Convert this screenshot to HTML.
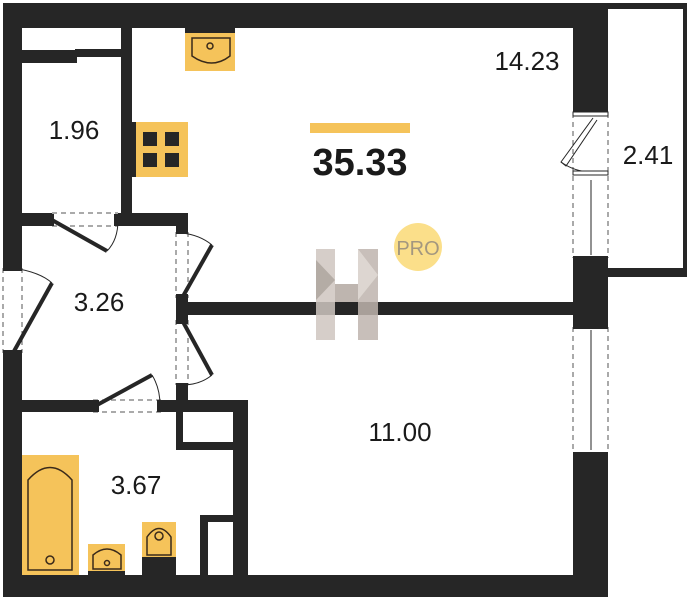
<!DOCTYPE html>
<html><head><meta charset="utf-8"><style>
html,body{margin:0;padding:0;background:#fff;}
svg{display:block}
text{font-family:"Liberation Sans",sans-serif;}
</style></head><body>
<svg width="694" height="600" viewBox="0 0 694 600" xmlns="http://www.w3.org/2000/svg">
<g fill="#262626">
<!-- outer top -->
<rect x="3" y="3" width="605" height="25"/>
<!-- left wall -->
<rect x="3" y="3" width="19" height="265"/>
<rect x="3" y="353" width="19" height="244"/>
<!-- bottom -->
<rect x="3" y="575" width="605" height="22"/>
<!-- right main wall -->
<rect x="573" y="3" width="35" height="110"/>
<rect x="573" y="258" width="35" height="69"/>
<rect x="573" y="453" width="35" height="144"/>
<!-- balcony -->
<rect x="608" y="3" width="79" height="6"/>
<rect x="683" y="3" width="4" height="274"/>
<rect x="608" y="268" width="79" height="9"/>
<!-- 1.96 room -->
<rect x="121" y="28" width="11" height="198"/>
<rect x="22" y="50" width="55" height="13"/>
<rect x="75" y="49" width="46" height="8"/>
<rect x="22" y="213" width="30" height="13"/>
<rect x="118" y="213" width="70" height="13"/>
<rect x="176" y="213" width="12" height="19"/>
<!-- partition -->
<rect x="176" y="298" width="12" height="22"/>
<rect x="176" y="302" width="400" height="13"/>
<rect x="176" y="385" width="12" height="27"/>
<!-- hall bottom wall -->
<rect x="22" y="400" width="71" height="12"/>
<rect x="163" y="400" width="85" height="12"/>
<rect x="233" y="400" width="15" height="177"/>
<!-- small boxes -->
<rect x="176" y="400" width="7" height="50"/>
<rect x="176" y="442" width="57" height="8"/>
<rect x="200" y="515" width="8" height="62"/>
<rect x="200" y="515" width="33" height="7"/>
</g>
<!-- dashed openings -->
<g stroke="#555" stroke-width="1" stroke-dasharray="5,4" fill="none">
<line x1="52" y1="213" x2="118" y2="213"/><line x1="52" y1="226" x2="118" y2="226"/>
<line x1="176" y1="232" x2="176" y2="298"/><line x1="188" y1="232" x2="188" y2="298"/>
<line x1="176" y1="320" x2="176" y2="385"/><line x1="188" y1="320" x2="188" y2="385"/>
<line x1="3" y1="268" x2="3" y2="353"/><line x1="22" y1="268" x2="22" y2="353"/>
<line x1="93" y1="400" x2="163" y2="400"/><line x1="93" y1="412" x2="163" y2="412"/>
<line x1="573" y1="113" x2="573" y2="258"/><line x1="608" y1="113" x2="608" y2="258"/>
<line x1="573" y1="327" x2="573" y2="453"/><line x1="608" y1="327" x2="608" y2="453"/>
</g>
<!-- doors -->
<g stroke="#262626" stroke-width="4" fill="none">
<line x1="52" y1="220" x2="107" y2="251"/>
<line x1="182" y1="298" x2="212" y2="245"/>
<line x1="182" y1="320" x2="212" y2="375"/>
<line x1="13" y1="353" x2="52" y2="283"/>
<line x1="97" y1="405" x2="152" y2="375"/>
</g>
<g stroke="#262626" stroke-width="1" fill="none">
<path d="M107 251 Q118 240 118 220"/>
<path d="M212 245 Q200 235 182 233"/>
<path d="M212 375 Q200 385 182 385"/>
<path d="M52 283 Q40 272 13 268"/>
<path d="M152 375 Q160 388 160 405"/>
<line x1="591" y1="180" x2="591" y2="255"/>
<line x1="591" y1="330" x2="591" y2="450"/>
<path d="M593 118 L561 162 L566 166 L597 120" />
<path d="M561 162 Q575 172 592 172"/>
</g>
<g fill="#262626">
<rect x="47" y="214" width="7" height="12"/><rect x="114" y="214" width="7" height="12"/>
<rect x="176" y="228" width="12" height="6"/><rect x="176" y="294" width="12" height="6"/>
<rect x="176" y="318" width="12" height="6"/><rect x="176" y="383" width="12" height="6"/>
<rect x="3" y="265" width="19" height="6"/><rect x="3" y="350" width="19" height="6"/>
<rect x="92" y="400" width="7" height="12"/><rect x="157" y="400" width="7" height="12"/>
<rect x="573" y="256" width="35" height="3"/><rect x="573" y="326" width="35" height="3"/>
<rect x="573" y="452" width="35" height="3"/>
</g>
<g fill="#fff" stroke="#262626" stroke-width="1">
<rect x="573" y="112" width="35" height="4"/><rect x="573" y="171" width="35" height="4"/>
</g>
<!-- fixtures -->
<g fill="#f5c35a" stroke="#3a2a1a" stroke-width="1.5">
<rect x="185" y="32" width="50" height="39" stroke="none"/>
<path d="M192 38 H230 V56 Q212 70 192 56 Z" fill="none"/>
<circle cx="210" cy="46" r="3" fill="none"/>
<rect x="134" y="122" width="54" height="55" stroke="none"/>
<rect x="22" y="455" width="57" height="120" stroke="none"/>
<path d="M28 570 V480 Q50 455 72 480 V570 Z" fill="none"/>
<circle cx="50" cy="560" r="4" fill="none"/>
<rect x="88" y="544" width="37" height="31" stroke="none"/>
<path d="M93 555 Q107 543 121 555 V569 H93 Z" fill="none"/>
<circle cx="107" cy="563" r="2.5" fill="none"/>
<rect x="142" y="522" width="34" height="53" stroke="none"/>
<path d="M147 555 V537 Q159 520 171 537 V555 Z" fill="none"/>
<circle cx="159" cy="536" r="4" fill="none"/>
</g>
<g fill="#262626">
<rect x="185" y="28" width="50" height="5"/>
<rect x="132" y="122" width="4" height="55"/>
<rect x="143" y="132" width="14" height="14"/><rect x="165" y="132" width="14" height="14"/>
<rect x="143" y="153" width="14" height="14"/><rect x="165" y="153" width="14" height="14"/>
<rect x="88" y="571" width="37" height="4"/>
<rect x="142" y="557" width="34" height="18"/>
</g>
<!-- logo -->
<g opacity="0.85">
<rect x="316" y="249" width="19" height="91" fill="#cfc6c0"/>
<rect x="358" y="249" width="20" height="91" fill="#bfb5ae"/>
<rect x="335" y="284" width="23" height="18" fill="#b3a9a2"/>
<polygon points="316,260 335,280 316,300" fill="#a89e96"/>
<polygon points="358,249 378,275 358,300" fill="#d8d0ca"/>
</g>
<circle cx="418" cy="247" r="24" fill="#fbdf8a"/>
<text x="418" y="255" font-size="20" fill="#a3977f" text-anchor="middle">PRO</text>
<rect x="310" y="123" width="100" height="10" fill="#f5c35a"/>
<text x="360" y="175" font-size="38" font-weight="bold" fill="#1a1a1a" text-anchor="middle">35.33</text>
<g font-size="26" fill="#1a1a1a" text-anchor="middle">
<text x="527" y="70">14.23</text>
<text x="648" y="164">2.41</text>
<text x="74" y="139">1.96</text>
<text x="99" y="311">3.26</text>
<text x="400" y="441">11.00</text>
<text x="136" y="494">3.67</text>
</g>
</svg>
</body></html>
